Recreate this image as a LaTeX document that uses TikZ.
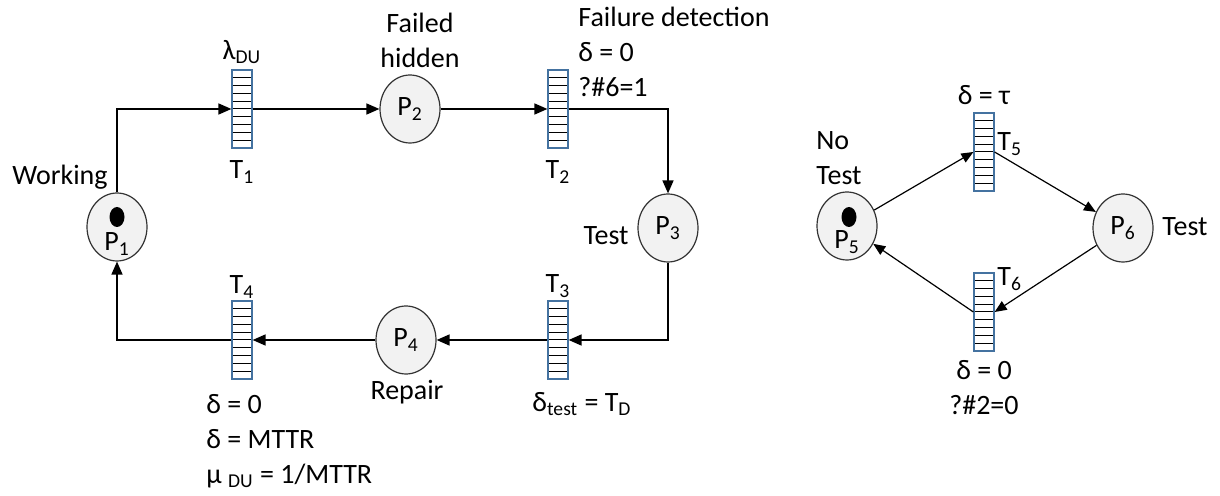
\documentclass[tikz,border=0pt]{standalone}
\usepackage{fontspec}
\setmainfont{Carlito}
\usetikzlibrary{arrows.meta,calc,shapes.geometric}
\definecolor{tranblue}{RGB}{68,114,160}
\tikzset{
  pnplace/.style = {ellipse,draw=black!80,fill=black!5,line width=0.6pt,
                    minimum width=30pt,minimum height=34pt,inner sep=0pt},
  pntok/.style   = {ellipse,fill=black,minimum width=7.5pt,minimum height=10pt,inner sep=0pt},
  pntran/.style  = {rectangle,draw=tranblue,fill=white,line width=0.6pt,
                    minimum width=10pt,minimum height=39pt,inner sep=0pt,
                    path picture={\foreach \k in {1,...,9}
                      \draw[black,line width=0.5pt]
                        ($(path picture bounding box.north west)!\k/10!(path picture bounding box.south west)$) --
                        ($(path picture bounding box.north east)!\k/10!(path picture bounding box.south east)$);}},
  flow/.style     = {-{Triangle[length=6.5pt,width=5.5pt]},line width=0.8pt},
  flowthin/.style = {-{Triangle[length=6pt,width=5pt]},line width=0.6pt},
  lbl/.style      = {inner sep=0pt}
}

\begin{document}
\begin{tikzpicture}[x=0.5pt,y=-0.5pt,font=\fontsize{14}{17.5}\selectfont]
  \useasboundingbox (0,0) rectangle (1220,496);
  % repair cycle
  \node[pnplace] (P1) at (117,227) {};
  \node[pntok]   (k1) at (117,217) {};
  \node[lbl]     (p1) at (117,244) {P\textsubscript{1}};
  \node[pntran]  (T1) at (242,109) {};
  \node[pnplace] (P2) at (410,109) {P\textsubscript{2}};
  \node[pntran]  (T2) at (558,109) {};
  \node[pnplace] (P3) at (668,228) {P\textsubscript{3}};
  \node[pntran]  (T3) at (558,340) {};
  \node[pnplace] (P4) at (406,340) {P\textsubscript{4}};
  \node[pntran]  (T4) at (242,340) {};

  \draw[flow] (P1.north) |- (T1.west);
  \draw[flow] (T1.east) -- (P2.west);
  \draw[flow] (P2.east) -- (T2.west);
  \draw[flow] (T2.east) -| (P3.north);
  \draw[flow] (P3.south) |- (T3.east);
  \draw[flow] (T3.west) -- (P4.east);
  \draw[flow] (P4.west) -- (T4.east);
  \draw[flow] (T4.west) -| (P1.south);

  \node[lbl,anchor=east] (working) at (108,177) {Working};
  \node[lbl] (lam)    at (242,52)  {λ\textsubscript{DU}};
  \node[lbl] (t1)     at (242,172) {T\textsubscript{1}};
  \node[lbl,align=center] (failed) at (420,40) {Failed\\hidden};
  \node[lbl,align=left,anchor=west] (detect) at (578,52) {Failure detection\\δ = 0\\?\#6=1};
  \node[lbl] (t2)     at (558,172) {T\textsubscript{2}};
  \node[lbl,anchor=east] (test3) at (629,236) {Test};
  \node[lbl] (t3)     at (558,286) {T\textsubscript{3}};
  \node[lbl] (dtest)  at (582,404) {δ\textsubscript{test} = T\textsubscript{D}};
  \node[lbl] (repair) at (407,392) {Repair};
  \node[lbl] (t4)     at (242,287) {T\textsubscript{4}};
  \node[lbl,align=left,anchor=west] (mttr) at (206,441) {δ = 0\\δ = MTTR\\μ \textsubscript{DU} = 1/MTTR};

  % test cycle
  \node[pnplace] (P5) at (847,226) {};
  \node[pntok]   (k5) at (849,217) {};
  \node[lbl]     (p5) at (847,242) {P\textsubscript{5}};
  \node[pntran]  (T5) at (984,152) {};
  \node[pnplace] (P6) at (1123,228) {P\textsubscript{6}};
  \node[pntran]  (T6) at (984,312) {};

  \draw[flowthin] (P5) -- (T5.west);
  \draw[flowthin] (T5.east) -- (P6);
  \draw[flowthin] (P6) -- (T6.east);
  \draw[flowthin] (T6.west) -- (P5);

  \node[lbl,align=left,anchor=west] (notest) at (816,158) {No\\Test};
  \node[lbl] (dtau)  at (984,95)  {δ = τ};
  \node[lbl,anchor=west] (t5) at (997,144) {T\textsubscript{5}};
  \node[lbl,anchor=west] (test6) at (1162,227) {Test};
  \node[lbl,anchor=west] (t6) at (997,279) {T\textsubscript{6}};
  \node[lbl,align=center] (d0) at (984,388) {δ = 0\\?\#2=0};
\end{tikzpicture}
\end{document}
